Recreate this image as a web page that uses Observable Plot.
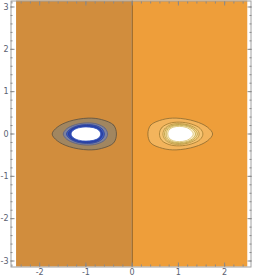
<!DOCTYPE html>
<html><head><meta charset="utf-8">
<script src="https://cdn.jsdelivr.net/npm/d3@7"></script>
<script src="https://cdn.jsdelivr.net/npm/@observablehq/plot@0.6"></script>
<style>body{margin:0;background:#fff}svg{display:block}</style>
</head><body><div id="chart"></div>
<script>
// Regions of constant value (left and right half-planes)
const regionX1 = [-2.5, 0];
const regionX2 = [0, 2.5];
const regionY = [-Math.PI, Math.PI];
// Major tick values
const xTicks = [-2, -1, 0, 1, 2];
const yTicks = [-3, -2, -1, 0, 1, 2, 3];
// Contour rings around the left source (outer → inner), [x, y]
const leftRing1 = [[-0.34,0],[-0.40,0.21],[-0.66,0.34],[-0.95,0.375],[-1.36,0.30],[-1.62,0.16],[-1.73,0],[-1.62,-0.16],[-1.36,-0.30],[-0.95,-0.375],[-0.66,-0.34],[-0.40,-0.21]];
const leftRing2 = [[-0.53,0],[-0.59,0.14],[-0.76,0.235],[-0.98,0.262],[-1.23,0.22],[-1.42,0.12],[-1.49,0],[-1.42,-0.12],[-1.23,-0.22],[-0.98,-0.262],[-0.76,-0.235],[-0.59,-0.14]];
const leftRing3 = [[-0.60,0],[-0.65,0.12],[-0.79,0.20],[-0.99,0.222],[-1.20,0.19],[-1.36,0.10],[-1.42,0],[-1.36,-0.10],[-1.20,-0.19],[-0.99,-0.222],[-0.79,-0.20],[-0.65,-0.12]];
const leftRing4 = [[-0.64,0],[-0.69,0.11],[-0.81,0.18],[-0.99,0.20],[-1.18,0.17],[-1.33,0.095],[-1.38,0],[-1.33,-0.095],[-1.18,-0.17],[-0.99,-0.20],[-0.81,-0.18],[-0.69,-0.11]];
const leftRing5 = [[-0.68,0],[-0.72,0.09],[-0.84,0.15],[-1.00,0.167],[-1.16,0.145],[-1.28,0.08],[-1.32,0],[-1.28,-0.08],[-1.16,-0.145],[-1.00,-0.167],[-0.84,-0.15],[-0.72,-0.09]];
// Contour rings around the right source (outer → inner)
const rightRing1 = [[0.34,0],[0.40,0.21],[0.66,0.34],[0.95,0.375],[1.36,0.30],[1.63,0.16],[1.74,0],[1.63,-0.16],[1.36,-0.30],[0.95,-0.375],[0.66,-0.34],[0.40,-0.21]];
const rightRing2 = [[0.59,0],[0.64,0.15],[0.80,0.25],[1.02,0.28],[1.28,0.235],[1.47,0.13],[1.53,0],[1.47,-0.13],[1.28,-0.235],[1.02,-0.28],[0.80,-0.25],[0.64,-0.15]];
const rightRing3 = [[0.665,0],[0.71,0.13],[0.84,0.22],[1.02,0.245],[1.24,0.205],[1.40,0.11],[1.45,0],[1.40,-0.11],[1.24,-0.205],[1.02,-0.245],[0.84,-0.22],[0.71,-0.13]];
const rightRing4 = [[0.70,0],[0.74,0.12],[0.86,0.20],[1.02,0.225],[1.22,0.19],[1.36,0.10],[1.41,0],[1.36,-0.10],[1.22,-0.19],[1.02,-0.225],[0.86,-0.20],[0.74,-0.12]];
const rightRing5 = [[0.735,0],[0.77,0.11],[0.88,0.185],[1.02,0.205],[1.20,0.175],[1.33,0.09],[1.37,0],[1.33,-0.09],[1.20,-0.175],[1.02,-0.205],[0.88,-0.185],[0.77,-0.11]];
const rightRing6 = [[0.77,0],[0.80,0.10],[0.89,0.16],[1.02,0.18],[1.17,0.155],[1.28,0.08],[1.32,0],[1.28,-0.08],[1.17,-0.155],[1.02,-0.18],[0.89,-0.16],[0.80,-0.10]];

// styles
const regionFill = ["#D18D3D", "#EE9E3A"];
const leftRings = [
  {pts: leftRing1, fill: "#A18660", stroke: "#5c5040"},
  {pts: leftRing2, fill: "#7C82A0", stroke: "#5a6080"},
  {pts: leftRing3, fill: "#3F5EC2", stroke: "#30449a"},
  {pts: leftRing4, fill: "#2A44B0", stroke: "#2a3c90"},
  {pts: leftRing5, fill: "#ffffff", stroke: "#3050b8"}
];
const rightRings = [
  {pts: rightRing1, fill: "#F3B45C", stroke: "#8a6a30"},
  {pts: rightRing2, fill: "#F6C472", stroke: "#a07a30"},
  {pts: rightRing3, fill: "#F8D186", stroke: "#b09040"},
  {pts: rightRing4, fill: "#FADF9E", stroke: "#b89a40"},
  {pts: rightRing5, fill: "#FCEDC4", stroke: "#c0a448"},
  {pts: rightRing6, fill: "#ffffff", stroke: "#d8c070"}
];

const regions = regionX1.map((x1, i) => ({x1, x2: regionX2[i], i}));
const minorX = d3.range(-13, 13).map(v => v / 5);
const minorY = d3.range(-15, 16).map(v => v / 5);

const ringMarks = [...leftRings, ...rightRings].map(r =>
  Plot.line(r.pts, {x: d => d[0], y: d => d[1], curve: "catmull-rom-closed", fill: r.fill, stroke: r.stroke, strokeWidth: 0.8})
);

const tickColor = "#8a8a8a";
const fmt = d => String(d);
const chart = Plot.plot({
  width: 253,
  height: 278,
  marginLeft: 10.5,
  marginRight: 2.5,
  marginTop: 0.5,
  marginBottom: 11.5,
  style: {fontFamily: "DejaVu Sans, sans-serif", fontSize: "8px", background: "#fff"},
  x: {domain: [-2.62, 2.57]},
  y: {domain: [-Math.PI, Math.PI]},
  marks: [
    Plot.rect(regions, {x1: "x1", x2: "x2", y1: regionY[0], y2: regionY[1], fill: d => regionFill[d.i]}),
    Plot.ruleX([0], {y1: regionY[0], y2: regionY[1], stroke: "#7a5628", strokeWidth: 1}),
    ...ringMarks,
    Plot.frame({stroke: "#a0a0a0"}),
    Plot.axisX(xTicks, {anchor: "bottom", tickSize: 0, tickPadding: 2.5, fill: "#5a6070", label: null, tickFormat: fmt}),
    Plot.axisY(yTicks, {anchor: "left", tickSize: 0, tickPadding: 2.5, fill: "#5a6070", label: null, tickFormat: fmt}),
    Plot.axisX(xTicks, {anchor: "bottom", tickSize: -4, text: null, stroke: tickColor, label: null}),
    Plot.axisX(xTicks, {anchor: "top", tickSize: -4, text: null, stroke: tickColor, label: null}),
    Plot.axisY(yTicks, {anchor: "left", tickSize: -4, text: null, stroke: tickColor, label: null}),
    Plot.axisY(yTicks, {anchor: "right", tickSize: -4, text: null, stroke: tickColor, label: null}),
    Plot.axisX(minorX, {anchor: "bottom", tickSize: -2, text: null, stroke: tickColor, label: null}),
    Plot.axisX(minorX, {anchor: "top", tickSize: -2, text: null, stroke: tickColor, label: null}),
    Plot.axisY(minorY, {anchor: "left", tickSize: -2, text: null, stroke: tickColor, label: null}),
    Plot.axisY(minorY, {anchor: "right", tickSize: -2, text: null, stroke: tickColor, label: null})
  ]
});
document.getElementById("chart").appendChild(chart);
</script>
</body></html>
